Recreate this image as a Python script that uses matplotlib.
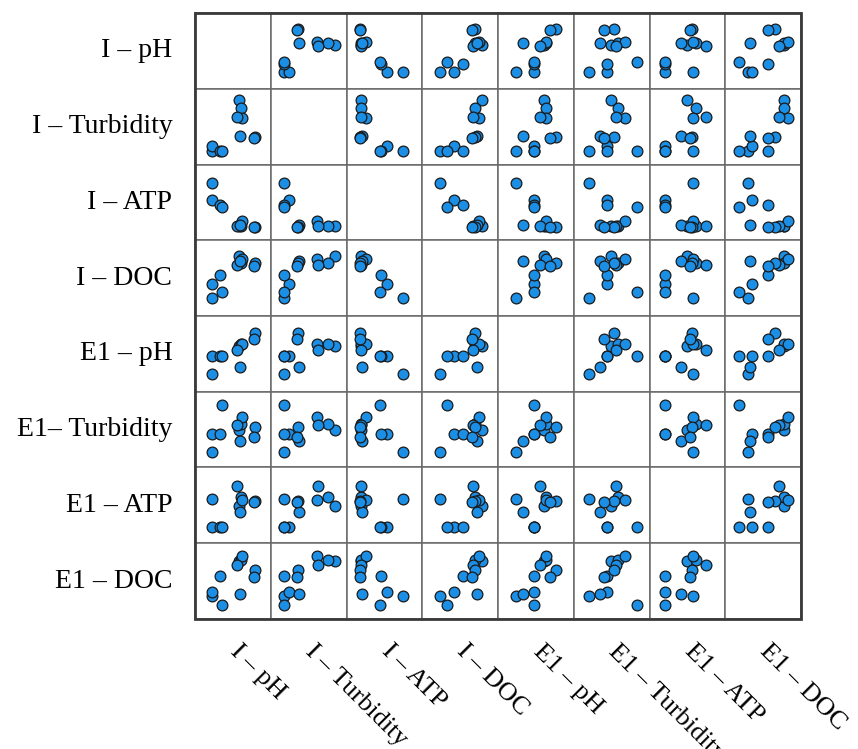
import matplotlib
matplotlib.use("Agg")
import matplotlib.pyplot as plt
from matplotlib.patches import Rectangle

plt.rcParams['font.family'] = ['Liberation Serif', 'DejaVu Serif']

# 11 sampling events, every parameter scaled to [0, 1] (no tick values shown)
i_ph = [0.22, 0.22, 0.33, 0.36, 0.58, 0.61, 0.62, 0.56, 0.60, 0.79, 0.78]
i_turb = [0.18, 0.24, 0.18, 0.18, 0.85, 0.75, 0.61, 0.63, 0.37, 0.36, 0.35]
i_atp = [0.75, 0.53, 0.46, 0.44, 0.19, 0.19, 0.26, 0.19, 0.20, 0.18, 0.18]
i_doc = [0.24, 0.42, 0.54, 0.32, 0.79, 0.70, 0.75, 0.67, 0.72, 0.70, 0.66]
e1_ph = [0.24, 0.47, 0.47, 0.47, 0.61, 0.63, 0.63, 0.55, 0.33, 0.77, 0.69]
e1_turb = [0.20, 0.44, 0.44, 0.83, 0.49, 0.58, 0.67, 0.56, 0.35, 0.53, 0.40]
e1_atp = [0.58, 0.21, 0.21, 0.21, 0.49, 0.61, 0.57, 0.75, 0.41, 0.56, 0.54]
e1_doc = [0.30, 0.35, 0.57, 0.18, 0.77, 0.78, 0.83, 0.71, 0.33, 0.65, 0.56]

row_labels = ['I – pH', 'I – Turbidity', 'I – ATP', 'I – DOC',
              'E1 – pH', 'E1– Turbidity', 'E1 – ATP', 'E1 – DOC']
col_labels = ['I – pH', 'I – Turbidity', 'I – ATP', 'I – DOC',
              'E1 – pH', 'E1 – Turbidity', 'E1 – ATP', 'E1 – DOC']

variables = [i_ph, i_turb, i_atp, i_doc, e1_ph, e1_turb, e1_atp, e1_doc]
n = len(variables)

fig, axes = plt.subplots(n, n, figsize=(8.58, 7.49), dpi=100)
left, right, top, bottom = 0.2273, 0.9336, 0.9826, 0.1736
fig.subplots_adjust(left=left, right=right, top=top, bottom=bottom,
                    wspace=0, hspace=0)

for r in range(n):
    for c in range(n):
        ax = axes[r, c]
        ax.set_xlim(0, 1)
        ax.set_ylim(0, 1)
        ax.set_xticks([])
        ax.set_yticks([])
        for sp in ax.spines.values():
            sp.set_color('#6a6a6a')
            sp.set_linewidth(1.1)
        if r != c:
            ax.scatter(variables[c], variables[r], s=60, c='#1b8fe6',
                       edgecolors='#1a1a1a', linewidths=0.9, zorder=3)

# row names on the left
for r in range(n):
    axes[r, 0].text(-0.30, 0.5, row_labels[r], transform=axes[r, 0].transAxes,
                    ha='right', va='center', fontsize=20)

# slanted column names under the grid
for c in range(n):
    axes[n - 1, c].text(0.45, -0.44, col_labels[c],
                        transform=axes[n - 1, c].transAxes,
                        rotation=-45, rotation_mode='anchor',
                        ha='left', va='baseline', fontsize=19)

# heavier outer frame
fig.add_artist(Rectangle((left, bottom), right - left, top - bottom,
                         transform=fig.transFigure, fill=False,
                         lw=2.0, ec='#3a3a3a', zorder=10))

fig.savefig('out.png', dpi=100)
